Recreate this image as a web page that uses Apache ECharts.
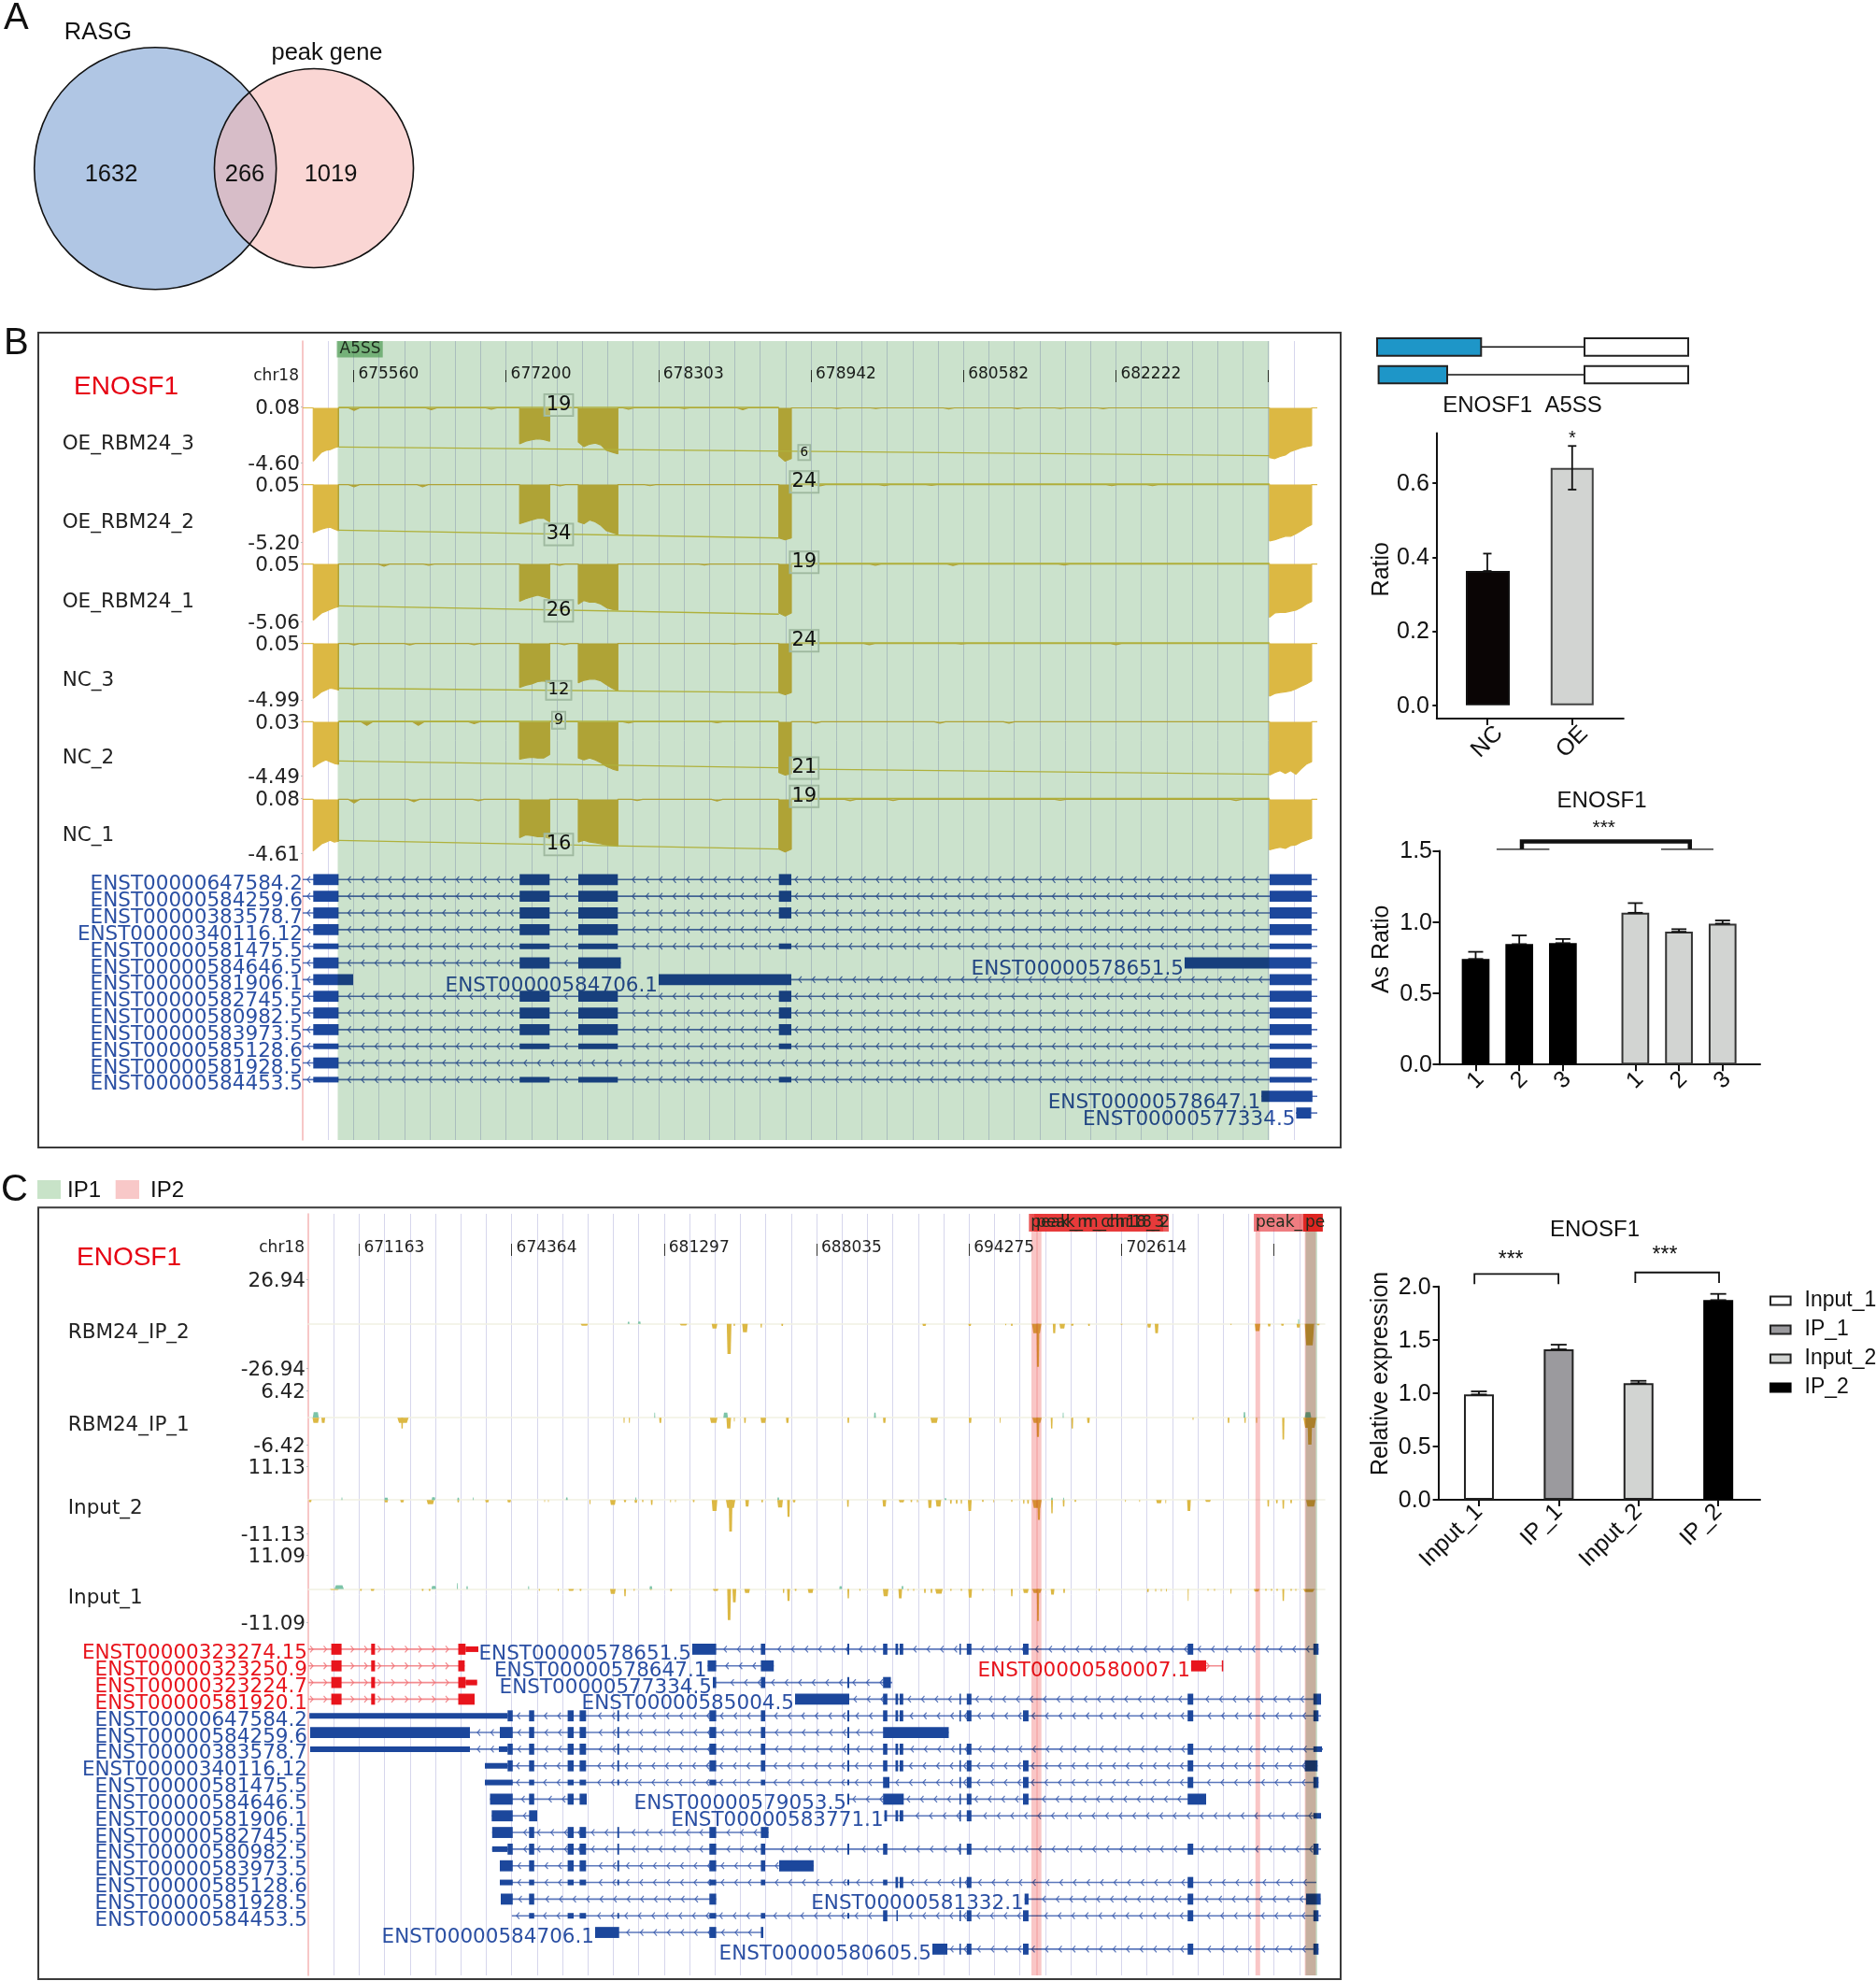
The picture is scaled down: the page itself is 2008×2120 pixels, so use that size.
<!DOCTYPE html>
<html><head><meta charset="utf-8">
<style>html,body{margin:0;padding:0;background:#fff}#c{width:2008px;height:2120px}</style>
<script src="https://cdn.jsdelivr.net/npm/echarts@6/dist/echarts.min.js"></script>
</head><body><div id="c"></div>
<script>
/* ---------- A: Venn ---------- */
const vennSizes = [1898, 1285];
const vennCenters = [[166.2,180.3],[336,180]];
const vennCounts = [[119,187,'1632'],[262,187,'266'],[354,187,'1019']];
const vennNames = [[105,35,'RASG'],[350,57,'peak gene']];

/* ---------- B: browser tracks ---------- */
const trackTicksLabelsB = ['675560','677200','678303','678942','680582','682222',''];
const trackTicksLabelsC = ['671163','674364','681297','688035','694275','702614',''];
const trackTickPos = [54.4,217.6,380.8,544,707.2,870.4,1033.6];
const covExons = [[11.3,38.4],[232.2,264.3],[295,337.3],[509.7,523],[1034.9,1079.9]];
const cov_OE3 = [[4.45,4.06,3.7,3.55,3.49,3.33,3.24],[3.0,2.79,2.67,2.58,2.64,2.79],[2.85,3.24,3.03,2.94,3.09,3.55,3.7,3.85],[4.0,4.45,4.24],[4.15,4.24,4.06,3.94,3.64,3.49,3.33,3.24,3.15]];
const cov_OE2 = [[4.32,4.16,4.0,3.9,3.84,4.0,4.16],[3.52,3.35,3.19,3.03,3.03,3.35],[3.35,3.52,3.19,3.35,3.68,4.16,4.32,4.49],[4.81,4.97,4.81],[5.07,4.97,4.81,4.65,4.65,4.42,4.16,3.84,3.61]];
const cov_OE1 = [[4.96,4.64,4.32,4.16,4.0,3.85,3.75],[3.28,3.06,2.9,2.74,2.9,3.06],[3.53,3.21,3.37,3.37,3.53,3.85,4.0,4.07],[4.32,4.58,4.32],[4.7,4.32,4.26,4.26,4.16,4.07,3.85,3.53,3.31]];
const cov_NC3 = [[4.86,4.6,4.29,4.13,3.97,4.03,4.13],[3.9,3.71,3.59,3.39,3.33,3.49],[3.49,3.27,3.17,3.17,3.33,3.65,3.97,4.22],[4.35,4.54,4.35],[4.67,4.45,4.35,4.29,4.22,4.03,3.81,3.59,3.33]];
const cov_NC2 = [[3.78,3.54,3.33,3.18,3.33,3.48,3.54],[3.12,3.03,2.97,3.03,3.03,2.73],[3.03,3.18,3.03,3.18,3.42,3.72,3.93,4.08],[4.23,4.44,4.32],[4.44,4.23,4.08,4.32,4.08,4.38,3.93,3.54,3.33]];
const cov_NC1 = [[4.4,4.09,3.79,3.64,3.48,3.64,3.57],[3.27,3.03,3.09,3.18,3.18,3.33],[3.64,3.48,3.64,3.7,3.79,3.88,3.94,4.0],[4.24,4.49,4.24],[4.3,4.18,4.09,4.18,3.94,3.88,3.64,3.48,3.33]];
const bump_OE3 = [[55,.2],[137.6,.15],[201.9,.1],[348.8,.1],[408.5,.05],[471,.15],[572,.05],[613.4,.05],[691.5,.08],[765,.06],[810.9,.04],[856.8,.06]];
const bump_OE2 = [[55,.2],[128.4,.2],[275.3,.12],[371.8,.1],[553.7,.12],[622.6,.1],[673,.06],[866,.1],[909.6,.1]];
const bump_OE1 = [[87,.2],[135,.1],[275,.1],[430,.08],[613,.1],[696,.12],[815,.08]];
const bump_NC3 = [[55,.12],[114.6,.12],[183.5,.1],[280,.1],[462,.05],[606.5,.1],[705,.05],[870.5,.1]];
const bump_NC2 = [[68.7,.3],[123.8,.3],[183.5,.15],[348.8,.1],[443.5,.08],[549,.12],[682,.12],[756,.12]];
const bump_NC1 = [[55,.3],[119,.2],[188,.12],[358,.1],[443.5,.15],[586,.12],[632,.1],[810.9,.08],[999,.1]];
const trackNamesB = ['OE_RBM24_3','OE_RBM24_2','OE_RBM24_1','NC_3','NC_2','NC_1'];
const trackMaxB = [0.08,0.05,0.05,0.05,0.03,0.08];
const trackMinB = [-4.60,-5.20,-5.06,-4.99,-4.49,-4.61];
const junc_OE3 = [[38.4,.05,509.7,.05],[38.4,-3.27,1034.9,-4.0]];
const junc_OE2 = [[523,.05,1034.9,.05],[38.4,-4.1,509.7,-4.81]];
const junc_OE1 = [[523,.05,1034.9,.05],[38.4,-3.69,509.7,-4.42]];
const junc_NC3 = [[523,.05,1034.9,.05],[38.4,-3.97,509.7,-4.35]];
const junc_NC2 = [[38.4,.03,509.7,.03],[523,-3.93,1034.9,-4.38],[38.4,-3.27,509.7,-3.84]];
const junc_NC1 = [[523,.08,1034.9,.08],[38.4,-3.5,509.7,-4.24]];
const jlab_OE3 = [[274,.23,19],[536.8,-3.73,6]];
const jlab_OE2 = [[274,-4.49,34],[536.8,.24,24]];
const jlab_OE1 = [[274,-4.13,26],[536.8,.15,19]];
const jlab_NC3 = [[274,-4.16,12],[536.8,.24,24]];
const jlab_NC2 = [[274,.12,9],[536.8,-3.87,21]];
const jlab_NC1 = [[274,-3.85,16],[536.8,.26,19]];

const E1=[11.3,38.4],E2=[232.2,264.3],E3=[295,337.3],E4=[509.7,523],E5=[1034.9,1079.9];
const u=e=>[e[0],e[1],'u'];
const txB_axisNames = ['ENST00000647584.2','ENST00000584259.6','ENST00000383578.7','ENST00000340116.12','ENST00000581475.5','ENST00000584646.5','ENST00000581906.1','ENST00000582745.5','ENST00000580982.5','ENST00000583973.5','ENST00000585128.6','ENST00000581928.5','ENST00000584453.5','',''];
const txB_rows = [0,1,2,3,4,5,5,6,6,7,8,9,10,11,12,13,14];
const txB_inline = ['','','','','','','ENST00000578651.5','','ENST00000584706.1','','','','','','','ENST00000578647.1','ENST00000577334.5'];
const txB_spans = [[0,1086],[0,1086],[0,1086],[0,1086],[0,1086],[0,340.5],[944,1086],[0,54],[381,1086],[0,1086],[0,1086],[0,1086],[0,1086],[0,1086],[0,1086],[1026,1086],[1063,1086]];
const txB_exons = [[E1,E2,E3,E4,E5],[E1,E2,E3,E4,E5],[E1,E2,E3,E4,E5],[E1,E2,E3,E5],[u(E1),u(E2),u(E3),u(E4),u(E5)],[E1,E2,[295,340.5]],[[944,1079.5]],[[11.3,54]],[[381,523],E5],[E1,E2,E3,E4,E5],[E1,E2,E3,E4,E5],[E1,E2,E3,E4,E5],[u(E1),u(E2),u(E3),u(E4),u(E5)],[E1,E5],[u(E1),u(E2),u(E3),u(E4),u(E5)],[[1026.2,1080.8]],[[1063.4,1079.5]]];

/* ---------- C: peaks ---------- */
const trackNamesC = ['RBM24_IP_2','RBM24_IP_1','Input_2','Input_1'];
const trackMaxC = [26.94,6.42,11.13,11.09];
const sig_IP2 = [[295.5,4,-1.1],[342.8,1,1.3],[354.3,1.5,1.5],[401.6,4,-.95],[434.8,3,-2.8],[450.4,2.5,-18.3],[456,.8,-1.3],[467.4,3,-5.1],[484.8,.8,-2.3],[507.3,1,-1.3],[659.3,2,-1.3],[708,1.5,-1.3],[746.5,.6,-.8],[753,1,-1.3],[779.6,5,-5.7],[781,1.5,-26],[798.4,1.5,-5.7],[807,3,-2.8],[817.7,1.5,-1.1],[835.6,1,-1.3],[870.5,1,-.6],[900,2,-2.3],[908,2,-5.7],[987.6,.8,-.6],[1016,3,-4.3],[1028.5,1.5,-1.5],[1042.7,1.5,-1.1],[1059.7,2,-2.3],[1060,.6,2.8],[1071.6,5,-13],[1081,1.5,-.8]];
const sig_IP1 = [[8,3.2,1.33],[8,3.5,-1.26],[16,2,-1.26],[101.3,6,-1.26],[100.4,1,-2.6],[338,.6,-1.26],[343.7,.6,-1.26],[370.8,.5,1.18],[376.8,1.2,-1.26],[433.9,4,-1.26],[446.7,2.5,1.18],[450,2.5,-2.6],[456,.5,-.9],[467.4,1,-1.26],[487,3,-1.26],[512.8,1.5,-1.26],[578,1,-1.26],[606.5,1,1.18],[616.6,1.5,-1.26],[669.9,4,-1.26],[708.4,1.5,-1.26],[740.6,.5,-1.26],[780,5,-1.26],[781,1.5,-4.6],[795.7,1,-2.6],[808,.5,1.18],[817.7,1,-2.6],[835,1.5,-1.26],[947,.6,-.5],[985,1,-1.26],[1002,1,1.33],[1002.7,.8,-1.26],[1015,.6,-1.26],[1043.6,1.2,-5.2],[1070,3.5,1.33],[1072,7,-2.4],[1072,2.5,-6.4]];
const sig_In2 = [[2,1.5,-.72],[36,.5,.83],[83.4,2,-.83],[83.4,2,.72],[100.4,2,-.83],[130.7,4,-1.45],[134,2,.93],[160.5,1,-.83],[160.5,1,.72],[176.6,.5,.83],[191.3,2,-.83],[215,2,-.83],[253,.4,-.72],[257,.4,-.72],[276.7,1,.83],[301.5,.6,-1.45],[326,3,-1.66],[339,1.3,-.72],[350.6,1.5,-.93],[350.6,.6,.83],[358,.8,-.72],[367.6,1,-1.66],[387.8,.5,-.83],[393,.5,-.72],[412.5,1,-.72],[434.8,3,-3.7],[452,5,-2.7],[452,2,-10.5],[469.7,2,-2.17],[485.8,1,-.83],[505,3,-2.5],[503,1,.83],[514,1.5,-5.6],[520,1.5,-.83],[577.6,1,-2.3],[616.6,2,-2.17],[635,3,-.83],[645.5,1,-.72],[652,.6,-.83],[665.3,2,-2.7],[674.5,3,-2.17],[682,1,.6],[687.8,1,-1.24],[694,1,-1.24],[699,.8,-1.24],[708,2,-3.7],[722,1,-.62],[733.7,.5,-.83],[753,.8,-.62],[765.8,.8,-1.24],[770.4,1,-1.24],[780,5,-2.7],[782,1.5,-6.6],[796,1,-4.45],[796,1,.72],[808.5,1,-2.17],[808.5,.5,.72],[821,1,-.62],[874.7,.5,-.62],[889.8,.5,-.62],[910.5,3,-1.14],[917.8,.5,-1.14],[942.6,2,-3.7],[963,3,-.62],[1027.5,1,-2.17],[1036.7,1,-1.14],[1043.6,1,-2.9],[1052,1,-1.14],[1073,5,-2.17]];
const sig_In1 = [[28,5,-.3],[33,5,1.23],[56.3,1,-.61],[68.7,2,-.61],[122.4,1,-.61],[129.8,1,-.61],[134.3,2.5,1.02],[159.6,.5,1.94],[170,.8,.92],[235.8,.6,.92],[247.3,.6,-.61],[267.5,.6,-.61],[281.3,3,-.61],[291.4,1,-.61],[326,3,-1.64],[339,1,-2.35],[348.8,.6,-.61],[366.7,1,-.3],[366.7,1.5,.92],[388.3,1,-.7],[436,3,-.61],[450.4,2,-10.2],[456,2,-4.4],[469.7,3,-1.33],[508.7,.8,-1.33],[514,1.5,-3.9],[521.6,1,-.61],[537.6,3,-1.33],[569.8,1.5,.92],[578,1,-3.07],[590.4,.6,-.61],[618,3,-2.35],[633.6,2,-3.07],[636,1,1.02],[642,.6,-.61],[648,.6,-.61],[660,1,-1.33],[667,1,-1.33],[675,4,-1.53],[687.8,.8,-.61],[699,.8,-.61],[708.4,2,-2.86],[722,.8,-.61],[734,.5,-.61],[753,1,-2.35],[768,3,-1.33],[780,5,-1.33],[781,1.2,-10.5],[796.6,2,-1.84],[809,1,-1.33],[846.6,.5,-.61],[898.7,1,-1.0],[907,.6,-.82],[913,.5,-.82],[918.5,.5,-.82],[941.8,.5,-3.9],[963,.6,-.61],[970,.6,-.61],[987.6,.6,-1.53],[1015,3,-.82],[1025,.8,-.61],[1031,.8,-.61],[1037,.8,-.61],[1043.6,1,-3.9],[1052,.8,-.61],[1057,.6,-.61],[1071,6,-1.0]];
const bandsIP2 = [[774,780.5],[779.5,784.7],[1013.8,1018.8],[1066.6,1078.5]];
const bandsIP1 = [[1067.5,1079.9]];
const tagsC = [[771.3,915,'peak_m_chr18_3'],[777,921,'peak_m_chr18_2'],[1012,1085.8,'peak_'],[1065,1085.8,'pe']];

const A=[429.3,436.6],B=[484.4,489],Cx=[577,579],D=[615.2,619.8],F1=[628.5,631.3],F2=[633,636.8],Fa=[697,698.3],G=[704.8,709.8],H=[765,770.9],I=[941.2,947.2],J=[1075.8,1081.3];
const a1=[213.3,218.8],a2=[236.3,241.8],a3=[277.6,284],a4=[290.4,297.3],a5=[330.8,332.7];
const txC_axisNames = ['ENST00000323274.15','ENST00000323250.9','ENST00000323224.7','ENST00000581920.1','ENST00000647584.2','ENST00000584259.6','ENST00000383578.7','ENST00000340116.12','ENST00000581475.5','ENST00000584646.5','ENST00000581906.1','ENST00000582745.5','ENST00000580982.5','ENST00000583973.5','ENST00000585128.6','ENST00000581928.5','ENST00000584453.5','',''];
const txC_rows = [0,0,1,1,1,2,2,3,3,4,5,6,7,8,9,9,10,10,11,12,13,14,15,15,16,17,18];
const txC_strand = [1,-1,1,-1,1,1,-1,1,-1,-1,-1,-1,-1,-1,-1,-1,-1,-1,-1,-1,-1,-1,-1,-1,-1,-1,-1];
const txC_inline = ['','ENST00000578651.5','','ENST00000578647.1','ENST00000580007.1','','ENST00000577334.5','','ENST00000585004.5','','','','','','','ENST00000579053.5','','ENST00000583771.1','','','','','','ENST00000581332.1','','ENST00000584706.1','ENST00000580605.5'];
const txC_spans = [[0,182],[410.9,1081.3],[0,167.4],[427.4,498.2],[944.9,978.4],[0,180.7],[433,625],[0,178],[521,1084],[1.2,1084],[2,685.5],[2,1086],[189,1080.3],[189,1081.3],[194.5,298],[578,961],[196.3,245],[616.6,1084],[196.8,492.6],[196.8,1084],[205,540.9],[205,1079],[206,436.6],[766.7,1083.6],[217.9,1084],[307,487],[668,1081.3]];
const txC_exons = [
 [[24.6,35.6],[67.3,71.4],[160.5,168.3],[168.3,182,'u']],
 [[410.9,436.6],B,Cx,D,F1,F2,Fa,G,H,I,J],
 [[24.6,35.6],[67.3,71.4],[160.5,167.4]],
 [[427.4,436.6],[484.4,498.2]],
 [[944.9,961],[977.8,978.4]],
 [[24.6,35.6],[67.3,71.4],[160.5,168.3],[168.3,180.7,'u']],
 [[433,436.6],B,Cx,[615.2,623.5]],
 [[24.6,35.6],[67.3,71.4],[160.5,178]],
 [[521,579],D,F1,F2,Fa,G,I,[1075.8,1084]],
 [[1.2,213.3,'u'],a1,a2,a3,a4,a5,A,B,Cx,D,F1,F2,Fa,G,H,I,J],
 [[2,173],[205,218.8],a2,a3,a4,a5,A,B,Cx,[615.2,685.5]],
 [[2,173,'u'],[204,213.3,'u'],a1,a2,a3,a4,a5,A,B,Cx,D,F1,F2,Fa,G,[941.2,947.2],[1075.8,1085,'u']],
 [[189,213.3,'u'],a1,a2,a3,a4,a5,A,B,Cx,D,F1,F2,Fa,G,H,I,[1066.6,1080.3]],
 [[189,218.8,'u'],u(a2),u(a3),u(a4),u(a5),u(A),u(B),u(Cx),[615.2,622],Fa,G,H,I,J],
 [[194.5,218.8],a2,a3,[290.4,298]],
 [Cx,[615.2,637.3],Fa,G,H,[941.2,961]],
 [[196.3,218.8],[236.3,245]],
 [[616.6,619.4],F1,F2,Fa,G,[1075.8,1084,'u']],
 [[196.8,218.8],a2,a3,a4,a5,A,[484.4,492.6]],
 [[196.8,213.3,'u'],a1,a2,a3,a4,a5,A,B,Cx,D,Fa,G,I,J],
 [[205,218.8],a2,a3,a4,a5,A,B,[504,540.9]],
 [[205,218.8,'u'],u(a2),u(a3),u(a4),u(a5),u(A),u(B),u(Cx),u(D),F1,F2,Fa,G,I],
 [[206,218.8],a2,A],
 [[766.7,770.9],I,[1068,1083.6]],
 [u(a2),u(a3),u(a4),u(a5),u(A),u(B),u(Cx),D,[629.5,631],Fa,G,H,I,J],
 [[307,332.7],A,[484.4,487]],
 [[668,684],Fa,G,H,I,J]
];

/* ---------- bars ---------- */
const spliceLong = [[0,111.3],[222,333]];
const spliceShort = [[1.6,75],[222,333]];
const ratioCats = ['NC','OE'];
const ratioX = [1,2];
const ratioVals = [0.363,0.6415];
const ratioErrTop = [0.41,0.701];
const ratioErrLow = [0.363,0.583];
const asCats = ['1','2','3','1','2','3'];
const asX = [1,2,3,4.66,5.66,6.66];
const asVals = [0.741,0.845,0.852,1.065,0.932,0.989];
const asErr = [0.791,0.906,0.881,1.133,0.95,1.011];
const relCats = ['Input_1','IP_1','Input_2','IP_2'];
const relX = [1,2,3,4];
const relVals = [0.987,1.41,1.092,1.872];
const relErr = [1.016,1.454,1.115,1.93];

/* ---------- build ---------- */
const SANS='"Liberation Sans"', DJ='"DejaVu Sans"';
const BLUE='#1c479c', BLUETXT='#2a4fa3', RED='#e8141c', YEL='#dcb843', TEAL='#7cc4a8';
const option={animation:false,backgroundColor:'#fff',grid:[],xAxis:[],yAxis:[],series:[],graphic:[]};
const hidden=(min,max,extra)=>Object.assign({type:'value',min,max,show:false},extra||{});
function addGrid(l,t,w,h,x,y){
  option.grid.push({left:l,top:t,width:w,height:h});
  const i=option.grid.length-1;
  option.xAxis.push(Object.assign({gridIndex:i},x));
  option.yAxis.push(Object.assign({gridIndex:i},y));
  return i;
}
function text(t,x,y,font,fill,align,rot){
  option.graphic.push({type:'text',x,y:y+1.5,rotation:rot||0,z:200,silent:true,
    style:{text:t,font,fill,align:align||'left',verticalAlign:'middle'}});
}
function custom(g,data,enc,renderItem,z,blendMode){
  const s={type:'custom',xAxisIndex:g,yAxisIndex:g,data,encode:enc,renderItem,z:z||3,silent:true,clip:false};
  if(blendMode) s.blendMode=blendMode;
  option.series.push(s);
}
const once=[[0,0]], onceEnc={x:0,y:1};

/* panel letters + frames */
text('A',4,18,'40px '+SANS,'#111');
text('B',4,366,'40px '+SANS,'#111');
text('C',1,1272,'40px '+SANS,'#111');
option.graphic.push({type:'rect',z:190,silent:true,shape:{x:41,y:356,width:1394,height:872},style:{fill:'none',stroke:'#3a3a3a',lineWidth:2}});
option.graphic.push({type:'rect',z:190,silent:true,shape:{x:41,y:1292.3,width:1394,height:825.7},style:{fill:'none',stroke:'#3a3a3a',lineWidth:2}});

/* A venn */
{
  const g=addGrid(0,0,480,330,hidden(0,480),hidden(0,330,{inverse:true}));
  const k=129.5/Math.sqrt(vennSizes[0]);
  const fills=['#b0c6e4','rgba(246,182,178,0.56)'];
  custom(g,once,onceEnc,(p,api)=>{
    const ch=[];
    vennCenters.forEach((c,i)=>{const q=api.coord(c);const r=api.size([k*Math.sqrt(vennSizes[i]),0])[0];
      ch.push({type:'circle',shape:{cx:q[0],cy:q[1],r},style:{fill:fills[i]}});});
    vennCenters.forEach((c,i)=>{const q=api.coord(c);const r=api.size([k*Math.sqrt(vennSizes[i]),0])[0];
      ch.push({type:'circle',shape:{cx:q[0],cy:q[1],r},style:{fill:'none',stroke:'#111',lineWidth:1.6}});});
    vennCounts.concat(vennNames).forEach(t=>{const q=api.coord([t[0],t[1]]);
      ch.push({type:'text',style:{text:t[2],x:q[0],y:q[1],font:'25.5px '+SANS,fill:'#111',align:'center',verticalAlign:'middle'}});});
    return {type:'group',children:ch};
  });
}

/* browser helpers */
function bgGrid(left,top,h,labels,headerTop){
  const g=addGrid(left,top,1088,h,
    {type:'value',min:0,max:1088,interval:27.2,axisLine:{show:false},axisTick:{show:false},axisLabel:{show:false},
     splitLine:{show:true,showMinLine:false,showMaxLine:false,lineStyle:{color:'#d6d6ec',width:1}}},
    {type:'value',min:0,max:1,inverse:true,axisLine:{show:true,onZero:false,lineStyle:{color:'#f4b4b4',width:1.5}},axisTick:{show:false},axisLabel:{show:false},splitLine:{show:false}});
  addGrid(left,headerTop,1088,4,
    {type:'value',min:0,max:1088,position:'top',axisLine:{show:false},splitLine:{show:false},
     axisTick:{show:true,inside:true,customValues:trackTickPos,length:13,lineStyle:{color:'#333',width:1}},
     axisLabel:{show:true,inside:true,customValues:trackTickPos,align:'left',margin:0,fontFamily:'DejaVu Sans',fontSize:17,color:'#222',padding:[0,0,0,5],
       formatter:(v)=>labels[trackTickPos.indexOf(v)]}},
    hidden(0,1));
  return g;
}
function covLine(depths,bumps){
  const items=[];
  covExons.forEach((e,i)=>items.push({x:e[0],x1:e[1],d:depths[i]}));
  bumps.forEach(b=>items.push({x:b[0]-6,x1:b[0]+6,d:[b[1]],mid:b[0]}));
  items.sort((a,b)=>a.x-b.x);
  const pts=[[0,0]];
  items.forEach(it=>{
    pts.push([it.x,0]);
    if(it.mid!==undefined) pts.push([it.mid,-it.d[0]]);
    else it.d.forEach((d,j)=>pts.push([it.x+(it.x1-it.x)*j/(it.d.length-1),-d]));
    pts.push([it.x1,0]);
  });
  pts.push([1086,0]);
  return pts;
}
function trackAxes(left,top,h,vmin,vmax,baseline){
  return addGrid(left,top,1088,h,
    {type:'value',min:vmin===undefined?0:0,max:1088,axisLine:{show:!!baseline,onZero:true,lineStyle:{color:'#f1f1e2',width:1.5}},axisTick:{show:false},axisLabel:{show:false},splitLine:{show:false}},
    {type:'value',min:vmin,max:vmax,axisLine:{show:false},splitLine:{show:false},
     axisTick:{show:true,customValues:[vmin,vmax],length:2,lineStyle:{color:'#bbb'}},
     axisLabel:{show:true,customValues:[vmin,vmax],margin:3,fontFamily:'DejaVu Sans',fontSize:21.5,color:'#222',verticalAlign:'top',lineHeight:4,formatter:v=>v.toFixed(2)}});
}
function transcriptSeries(g,rows,inline,spans,exons,strand,colorOf,lineColorOf,labelDy){
  custom(g,rows.map((r,i)=>[i,r,i]),{x:0,y:1},(p,api)=>{
    const i=api.value(2),r=rows[i],sp=spans[i],ex=exons[i],dir=strand?strand[i]:-1;
    const y=api.coord([0,r])[1],ch=[];
    const col=colorOf(i),lc=lineColorOf(i);
    const X=v=>api.coord([v,r])[0];
    ch.push({type:'line',shape:{x1:X(sp[0]),y1:y,x2:X(sp[1]),y2:y},style:{stroke:lc,lineWidth:1.6}});
    for(let v=sp[0]+5;v<sp[1];v+=14.5){
      if(ex.some(e=>v>=e[0]-1&&v<=e[1]+3))continue;
      const x=X(v);
      ch.push({type:'polyline',shape:{points:[[x+dir*-3,y-3.5],[x,y],[x+dir*-3,y+3.5]]},style:{fill:'none',stroke:lc,lineWidth:1.2}});
    }
    ex.forEach(e=>{const hh=e[2]==='u'?3:5.9;
      ch.push({type:'rect',shape:{x:X(e[0]),y:y-hh,width:Math.max(1.5,X(e[1])-X(e[0])),height:hh*2},style:{fill:col}});});
    if(inline[i]){
      ch.push({type:'text',style:{text:inline[i],x:X(ex[0][0])-1,y:y+labelDy,font:'21.5px '+DJ,fill:colorOf(i)===RED?RED:BLUETXT,align:'right',verticalAlign:'middle'}});
    }
    return {type:'group',children:ch};
  });
}
function overlaySeries(g,bands,tags){
  custom(g,once,onceEnc,(p,api)=>{
    const y0=api.coord([0,0])[1],y1=api.coord([0,1])[1];
    return {type:'group',children:bands.map(b=>{const x0=api.coord([b[0],0])[0],x1=api.coord([b[1],0])[0];
      return {type:'rect',shape:{x:x0,y:y0,width:x1-x0,height:y1-y0},style:{fill:b[2]}};})};
  },30,'multiply');
  custom(g,once,onceEnc,(p,api)=>{
    const ch=[];
    const y0=api.coord([0,0])[1];
    tags.forEach(t=>{const x0=api.coord([t[0],0])[0],x1=api.coord([t[1],0])[0];const th=api.size([0,t[4]])[1];
      ch.push({type:'rect',shape:{x:x0,y:y0,width:x1-x0,height:th},style:{fill:t[3]}});});
    tags.forEach(t=>{const x0=api.coord([t[0],0])[0];const th=api.size([0,t[4]])[1];
      ch.push({type:'text',style:{text:t[2],x:x0+(t[5]||2),y:y0+th/2,font:'17px '+DJ,fill:'#1c2b1c',align:'left',verticalAlign:'middle'}});});
    return {type:'group',children:ch};
  },31);
}

/* B */
const bg=bgGrid(324,365,855,trackTicksLabelsB,392);
overlaySeries(bg,[[37.5,1034.5,'#cbe2cc']],[[36.5,85.7,'A5SS','rgba(60,145,65,0.6)',0.0205,3]]);
text('ENOSF1',79,413,'28px '+SANS,'#e60012');
text('chr18',320,401,'17px '+DJ,'#222','right');
const topsB=[435.5,518,603,688,772,854.4],botsB=[495.4,580.4,665,748.8,830,913.3];
const nameY=[474,557.7,642.6,726.8,810,892.5];
const covs=[cov_OE3,cov_OE2,cov_OE1,cov_NC3,cov_NC2,cov_NC1];
const bumps=[bump_OE3,bump_OE2,bump_OE1,bump_NC3,bump_NC2,bump_NC1];
const juncs=[junc_OE3,junc_OE2,junc_OE1,junc_NC3,junc_NC2,junc_NC1];
const jlabs=[jlab_OE3,jlab_OE2,jlab_OE1,jlab_NC3,jlab_NC2,jlab_NC1];
trackNamesB.forEach((n,i)=>{
  const g=trackAxes(324,topsB[i],botsB[i]-topsB[i],trackMinB[i],trackMaxB[i],false);
  text(n,66.7,nameY[i],'21.5px '+DJ,'#222');
  option.series.push({type:'line',xAxisIndex:g,yAxisIndex:g,data:covLine(covs[i],bumps[i]),showSymbol:false,symbol:'none',clip:false,silent:true,z:2,
    lineStyle:{color:YEL,width:1.2},areaStyle:{color:YEL,opacity:1,origin:0}});
  custom(g,juncs[i].map((j,k)=>[j[0],j[1],k]),{x:0,y:1},(p,api)=>{
    const j=juncs[i][api.value(2)];const a=api.coord([j[0],j[1]]),b=api.coord([j[2],j[3]]);
    return {type:'line',shape:{x1:a[0],y1:a[1],x2:b[0],y2:b[1]},style:{stroke:'#dcc84a',lineWidth:1.3}};
  },4);
  custom(g,jlabs[i],{x:0,y:1},(p,api)=>{
    const q=api.coord([api.value(0),api.value(1)]),c=api.value(2);
    const fs=Math.min(21,9+c*0.75);
    return {type:'text',style:{text:String(c),x:q[0],y:q[1],font:fs+'px '+DJ,fill:'#111',align:'center',verticalAlign:'middle',
      backgroundColor:'rgba(255,255,255,0.28)',borderColor:'#c2cdc2',borderWidth:1,padding:[1,2]}};
  },5);
});
{
  const g=addGrid(324,932.4,1088,267.6,
    {type:'value',min:0,max:1088,show:false},
    {type:'category',inverse:true,data:txB_axisNames,axisLine:{show:false},axisTick:{show:false},
     axisLabel:{interval:0,margin:0,fontFamily:'DejaVu Sans',fontSize:21.5,color:BLUETXT,verticalAlign:'top',lineHeight:11}});
  transcriptSeries(g,txB_rows,txB_inline,txB_spans,txB_exons,null,()=>BLUE,()=>'rgba(50,85,170,0.85)',7);
}

/* C */
const bgC=bgGrid(330,1299,815,trackTicksLabelsC,1327);
const PK='#f9c6c6',GR='#cbe2cc';
overlaySeries(bgC,bandsIP2.map(b=>[b[0],b[1],PK]).concat(bandsIP1.map(b=>[b[0],b[1],GR])),
  tagsC.map((t,i)=>[t[0],t[1],t[2],i<2?'rgba(230,50,50,0.8)':(i===2?'rgba(232,70,75,0.7)':'rgba(222,30,25,0.9)'),0.0233]));
text('ENOSF1',82,1345,'28px '+SANS,'#e60012');
text('chr18',326,1334,'17px '+DJ,'#222','right');
const topsC=[1369.3,1488.3,1569.3,1664.3],botsC=[1464.3,1546,1641,1736.7],nameYC=[1425,1524,1613,1709];
const sigs=[sig_IP2,sig_IP1,sig_In2,sig_In1];
trackNamesC.forEach((n,i)=>{
  const g=trackAxes(330,topsC[i],botsC[i]-topsC[i],-trackMaxC[i],trackMaxC[i],true);
  text(n,72.7,nameYC[i],'21.5px '+DJ,'#222');
  custom(g,sigs[i],{x:0,y:2},(p,api)=>{
    const x=api.value(0),w=api.value(1),v=api.value(2);
    const a=api.coord([x-w,0]),b=api.coord([x+w,0]),c=api.coord([x+w*0.7,v]),d=api.coord([x-w*0.7,v]);
    return {type:'polygon',shape:{points:[a,b,c,d]},style:{fill:v<0?YEL:TEAL}};
  },3);
});
{
  const g=addGrid(330,1756,1088,338.8,
    {type:'value',min:0,max:1088,show:false},
    {type:'category',inverse:true,data:txC_axisNames,axisLine:{show:false},axisTick:{show:false},
     axisLabel:{interval:0,margin:1,fontFamily:'DejaVu Sans',fontSize:21.5,verticalAlign:'top',lineHeight:10,
       color:(v,i)=>i<4?RED:BLUETXT}});
  const isRed=i=>txC_strand[i]===1;
  transcriptSeries(g,txC_rows,txC_inline,txC_spans,txC_exons,txC_strand,i=>isRed(i)?RED:BLUE,i=>isRed(i)?'rgba(240,110,115,0.8)':'rgba(50,85,170,0.8)',5.5);
}
/* IP legend */
option.graphic.push({type:'rect',z:190,silent:true,shape:{x:40,y:1263,width:25,height:20},style:{fill:'#c8e3c8'}});
option.graphic.push({type:'rect',z:190,silent:true,shape:{x:123.7,y:1263,width:25.3,height:20},style:{fill:'#f8c8c8'}});
text('IP1',72,1273,'24px '+SANS,'#111');
text('IP2',161,1273,'24px '+SANS,'#111');

/* Splice diagram */
{
  const g=addGrid(1474,356.5,334,59.4,hidden(0,334),{type:'category',inverse:true,show:false,data:['long','short']});
  [spliceLong,spliceShort].forEach((ex,r)=>{
    custom(g,once,onceEnc,(p,api)=>{
      const y=api.coord([0,r])[1],X=v=>api.coord([v,r])[0],ch=[];
      ch.push({type:'line',shape:{x1:X(ex[0][1]),y1:y,x2:X(ex[1][0]),y2:y},style:{stroke:'#111',lineWidth:1.5}});
      ex.forEach((e,i)=>ch.push({type:'rect',shape:{x:X(e[0]),y:y-9.3,width:X(e[1])-X(e[0]),height:18.6},style:{fill:i===0?'#1e96c8':'#fff',stroke:'#222',lineWidth:2}}));
      return {type:'group',children:ch};
    });
  });
}
text('ENOSF1  A5SS',1629.5,432.6,'24px '+SANS,'#111','center');

/* bar helper */
function barGrid(l,t,w,h,xmin,xmax,ymin,ymax,yTicks,xPos,xLabels,yname,nameGap,namePad,tickLen,labelOpt){
  return addGrid(l,t,w,h,
    {type:'value',min:xmin,max:xmax,splitLine:{show:false},
     axisLine:{show:true,onZero:false,lineStyle:{color:'#111',width:2}},
     axisTick:{show:true,customValues:xPos,length:7,lineStyle:{color:'#111',width:2}},
     axisLabel:Object.assign({show:true,customValues:xPos,rotate:45,fontFamily:'Liberation Sans',fontSize:25,color:'#111',
       formatter:v=>xLabels[xPos.indexOf(v)]},labelOpt)},
    {type:'value',min:ymin,max:ymax,splitLine:{show:false},
     name:yname,nameLocation:'middle',nameRotate:90,nameGap,
     nameTextStyle:{fontFamily:'Liberation Sans',fontSize:25,color:'#111',padding:[0,0,0,namePad]},
     axisLine:{show:true,onZero:false,lineStyle:{color:'#111',width:2}},
     axisTick:{show:true,customValues:yTicks,length:tickLen,lineStyle:{color:'#111',width:2}},
     axisLabel:{show:true,customValues:yTicks,margin:8,fontFamily:'Liberation Sans',fontSize:25,color:'#111',verticalAlign:'top',lineHeight:2,formatter:v=>v.toFixed(1)}});
}
function bars(g,name,x,v,w,fill,stroke){
  option.series.push({type:'bar',name,xAxisIndex:g,yAxisIndex:g,data:[[x,v]],barWidth:w,barGap:'-100%',silent:true,
    itemStyle:{color:fill,borderColor:stroke,borderWidth:2}});
}
function errs(g,xs,top,low,cap){
  custom(g,xs.map((x,i)=>[x,top[i],low[i]]),{x:0,y:1},(p,api)=>{
    const x=api.value(0),a=api.coord([x,api.value(1)]),b=api.coord([x,api.value(2)]),ch=[];
    ch.push({type:'line',shape:{x1:a[0],y1:a[1],x2:b[0],y2:b[1]},style:{stroke:'#111',lineWidth:1.8}});
    ch.push({type:'line',shape:{x1:a[0]-cap/2,y1:a[1],x2:a[0]+cap/2,y2:a[1]},style:{stroke:'#111',lineWidth:1.8}});
    ch.push({type:'line',shape:{x1:b[0]-cap/2,y1:b[1],x2:b[0]+cap/2,y2:b[1]},style:{stroke:'#111',lineWidth:1.8}});
    return {type:'group',children:ch};
  },6);
}
function stars(g,x,y,s,size){
  custom(g,[[x,y]],{x:0,y:1},(p,api)=>{const q=api.coord([api.value(0),api.value(1)]);
    return {type:'text',style:{text:s,x:q[0],y:q[1],font:size+'px '+SANS,fill:'#111',align:'center',verticalAlign:'middle'}};},7);
}
function bracket(g,b,width){
  custom(g,[[b[0],b[2]]],{x:0,y:1},(p,api)=>{
    const a=api.coord([b[0],b[2]]),c=api.coord([b[1],b[3]]);
    return {type:'polyline',shape:{points:[[a[0],c[1]],[a[0],a[1]],[c[0],a[1]],[c[0],c[1]]]},style:{fill:'none',stroke:'#111',lineWidth:width}};},7);
}

/* Ratio */
{
  const g=barGrid(1537.8,463.4,200,305.6,0.403,2.606,-0.036,0.736,[0,0.2,0.4,0.6],ratioX,ratioCats,'Ratio',46,14,4.5,{align:'center',verticalAlign:'middle',margin:25});
  bars(g,'NC',ratioX[0],ratioVals[0],47,'#0a0505','#111');
  bars(g,'OE',ratioX[1],ratioVals[1],46,'#d2d4d2','#444');
  errs(g,ratioX,ratioErrTop,ratioErrLow,9);
  stars(g,ratioX[1],0.72,'*',20);
}
/* As ratio */
{
  text('ENOSF1',1714.6,856,'24px '+SANS,'#111','center');
  const g=barGrid(1541,910.5,343,228.7,0.176,7.521,0,1.5,[0,0.5,1,1.5],asX,asCats,'As Ratio',49,18,7.5,{align:'center',verticalAlign:'middle',margin:17});
  asX.forEach((x,i)=> bars(g,'as'+i,x,asVals[i],29.7,i<3?'#000':'#d2d4d2',i<3?'#000':'#333'));
  errs(g,asX,asErr,asVals,16);
  bracket(g,[2.06,5.91,1.565,1.511],4.5);
  custom(g,[[1.48,1.48],[5.25,1.48]],{x:0,y:1},(p,api)=>{
    const i=p.dataIndex,r=i===0?[1.48,2.69]:[5.25,6.45];const a=api.coord([r[0],1.511]),b=api.coord([r[1],1.511]);
    return {type:'line',shape:{x1:a[0],y1:a[1],x2:b[0],y2:b[1]},style:{stroke:'#111',lineWidth:1.2}};},7);
  stars(g,3.94,1.66,'***',21);
}
/* Relative expression */
{
  text('ENOSF1',1707,1315,'24px '+SANS,'#111','center');
  const g=barGrid(1539.6,1376.7,344.4,228.3,0.492,4.525,0,2,[0,0.5,1,1.5,2],relX,relCats,'Relative expression',49,42,6,{margin:9});
  const f=['#fff','#9b9a9e','#d2d4d2','#000'],st=['#222','#222','#222','#000'];
  relX.forEach((x,i)=>bars(g,relCats[i],x,relVals[i],32,f[i],st[i]));
  errs(g,relX,relErr,relVals,17);
  bracket(g,[0.944,1.997,2.117,2.021],1.8);
  bracket(g,[2.96,4.01,2.131,2.032],1.8);
  stars(g,1.4,2.247,'***',23);
  stars(g,3.33,2.29,'***',23);
  option.legend={show:true,orient:'vertical',left:1889,top:1375.5,itemWidth:21.6,itemHeight:9,itemGap:8,icon:'rect',data:relCats,selectedMode:false,
    textStyle:{fontFamily:'Liberation Sans',fontSize:23,color:'#111',padding:[0,0,0,10]}};
}
const chart=echarts.init(document.getElementById('c'),null,{width:2008,height:2120,devicePixelRatio:1});
chart.setOption(option);
</script></body></html>
